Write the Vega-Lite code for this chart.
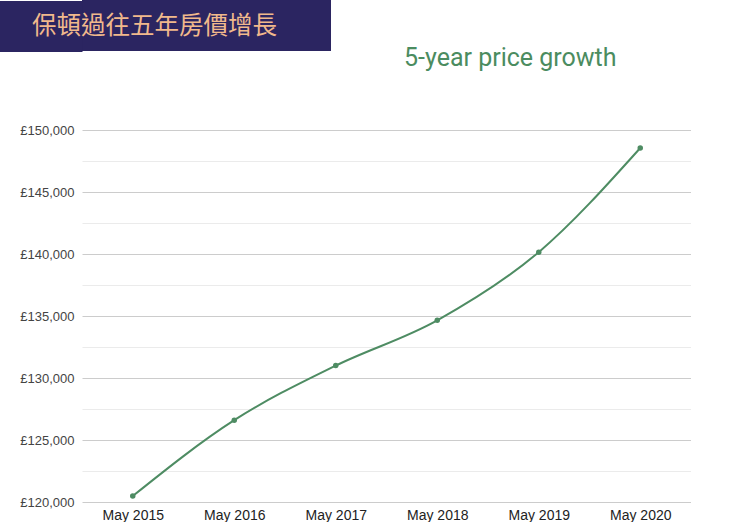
{
  "$schema": "https://vega.github.io/schema/vega-lite/v6.json",
  "background": "white",
  "padding": {"left": -28, "top": 0, "right": 0, "bottom": 0},
  "spacing": -6,
  "config": {
    "view": {"stroke": null},
    "font": "Liberation Sans"
  },
  "vconcat": [
    {
      "width": 249,
      "height": 51,
      "view": {"fill": "#2b2561", "stroke": null},
      "data": {"values": [{"row": "header", "label": "保頓過往五年房價增長"}]},
      "mark": {
        "type": "text",
        "font": "Noto Sans CJK TC",
        "fontSize": 24.5,
        "color": "#f1b98c",
        "dx": -52,
        "dy": 1
      },
      "encoding": {
        "text": {"field": "label"},
        "y": {
          "field": "row",
          "type": "nominal",
          "scale": {"type": "point", "padding": 0.5},
          "axis": {
            "title": null,
            "labels": false,
            "grid": false,
            "domain": false,
            "ticks": true,
            "tickColor": "#2b2561",
            "tickSize": 84,
            "tickWidth": 51,
            "tickCap": "butt",
            "offset": 0
          }
        }
      }
    },
    {
      "width": 609,
      "height": 372,
      "title": {
        "text": "5-year price growth",
        "anchor": "start",
        "frame": "group",
        "dx": 322,
        "offset": 53,
        "fontSize": 25,
        "fontWeight": "normal",
        "font": "Roboto",
        "color": "#4b8c60"
      },
      "data": {
        "values": [
          {"period": "May 2015", "price": 120480},
          {"period": "May 2016", "price": 126600},
          {"period": "May 2017", "price": 131000},
          {"period": "May 2018", "price": 134650},
          {"period": "May 2019", "price": 140150},
          {"period": "May 2020", "price": 148550}
        ]
      },
      "mark": {
        "type": "line",
        "interpolate": "monotone",
        "color": "#4e8c63",
        "strokeWidth": 2,
        "point": {"filled": true, "size": 30, "color": "#4e8c63"}
      },
      "encoding": {
        "x": {
          "field": "period",
          "type": "ordinal",
          "scale": {"type": "point", "padding": 0.5},
          "axis": {
            "title": null,
            "labelAngle": 0,
            "domain": false,
            "ticks": false,
            "labelFontSize": 14,
            "labelColor": "#222222",
            "labelPadding": 6
          }
        },
        "y": {
          "field": "price",
          "type": "quantitative",
          "scale": {"domain": [120000, 150000], "nice": false, "zero": false},
          "axis": {
            "title": null,
            "values": [120000, 122500, 125000, 127500, 130000, 132500, 135000, 137500, 140000, 142500, 145000, 147500, 150000],
            "labelExpr": "datum.value % 5000 === 0 ? '£' + format(datum.value, ',') : ''",
            "domain": false,
            "ticks": false,
            "labelFontSize": 13,
            "labelColor": "#444444",
            "labelPadding": 8,
            "gridColor": {
              "condition": {"test": "datum.value % 5000 === 0", "value": "#cccccc"},
              "value": "#ebebeb"
            },
            "gridWidth": 1
          }
        }
      }
    }
  ]
}
